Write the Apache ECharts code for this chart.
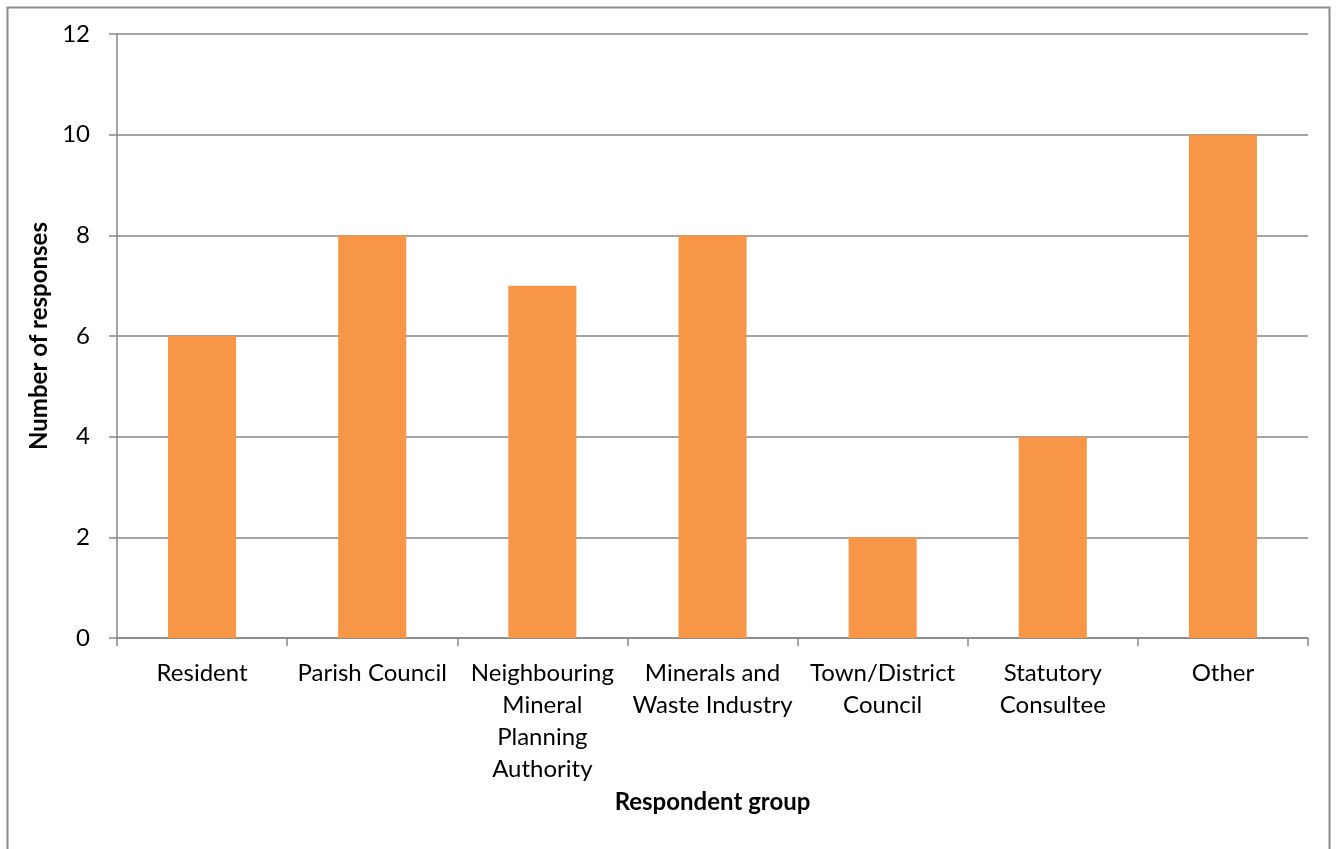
<!DOCTYPE html>
<html>
<head>
<meta charset="utf-8">
<script src="https://cdn.jsdelivr.net/npm/echarts@6/dist/echarts.min.js"></script>
<style>
html,body{margin:0;padding:0;background:#fff;}
#chart{width:1341px;height:849px;}
</style>
</head>
<body>
<div id="chart"></div>
<script>
var categories = ["Resident", "Parish Council", "Neighbouring\nMineral\nPlanning\nAuthority", "Minerals and\nWaste Industry", "Town/District\nCouncil", "Statutory\nConsultee", "Other"];
var responses = [6, 8, 7, 8, 2, 4, 10];
var yTicks = [0, 2, 4, 6, 8, 10, 12];

var chart = echarts.init(document.getElementById('chart'), null, {renderer: 'canvas'});
var font = 'Lato';
chart.setOption({
  animation: false,
  backgroundColor: '#ffffff',
  graphic: [{
    type: 'rect',
    shape: {x: 7.5, y: 7.5, width: 1322, height: 900},
    style: {fill: 'none', stroke: '#8c8c8c', lineWidth: 2}
  }],
  grid: {left: 117, right: 33, top: 34, bottom: 211, containLabel: false},
  xAxis: {
    type: 'category',
    data: categories,
    name: 'Respondent group',
    nameLocation: 'middle',
    nameGap: 152,
    nameTextStyle: {fontFamily: font, fontSize: 24, fontWeight: 'bold', color: '#000'},
    axisLine: {lineStyle: {color: '#868686', width: 1.5}},
    axisTick: {show: true, length: 8, lineStyle: {color: '#868686', width: 1.5}},
    axisLabel: {fontFamily: font, fontSize: 24, color: '#000', margin: 19, lineHeight: 32, interval: 0}
  },
  yAxis: {
    type: 'value',
    min: 0, max: 12, interval: 2,
    name: 'Number of responses',
    nameLocation: 'middle',
    nameGap: 59,
    nameTextStyle: {fontFamily: font, fontSize: 24, fontWeight: 'bold', color: '#000'},
    axisLine: {show: true, lineStyle: {color: '#868686', width: 1.5}},
    axisTick: {show: true, length: 8, lineStyle: {color: '#868686', width: 1.5}},
    axisLabel: {fontFamily: font, fontSize: 24, color: '#000', margin: 27,
      formatter: function (v) { return yTicks.indexOf(v) >= 0 ? String(v) : ''; }},
    splitLine: {show: true, lineStyle: {color: '#868686', width: 1.5}}
  },
  series: [{
    type: 'bar',
    data: responses,
    barCategoryGap: '60%',
    itemStyle: {color: '#F79646'}
  }]
});
</script>
</body>
</html>
